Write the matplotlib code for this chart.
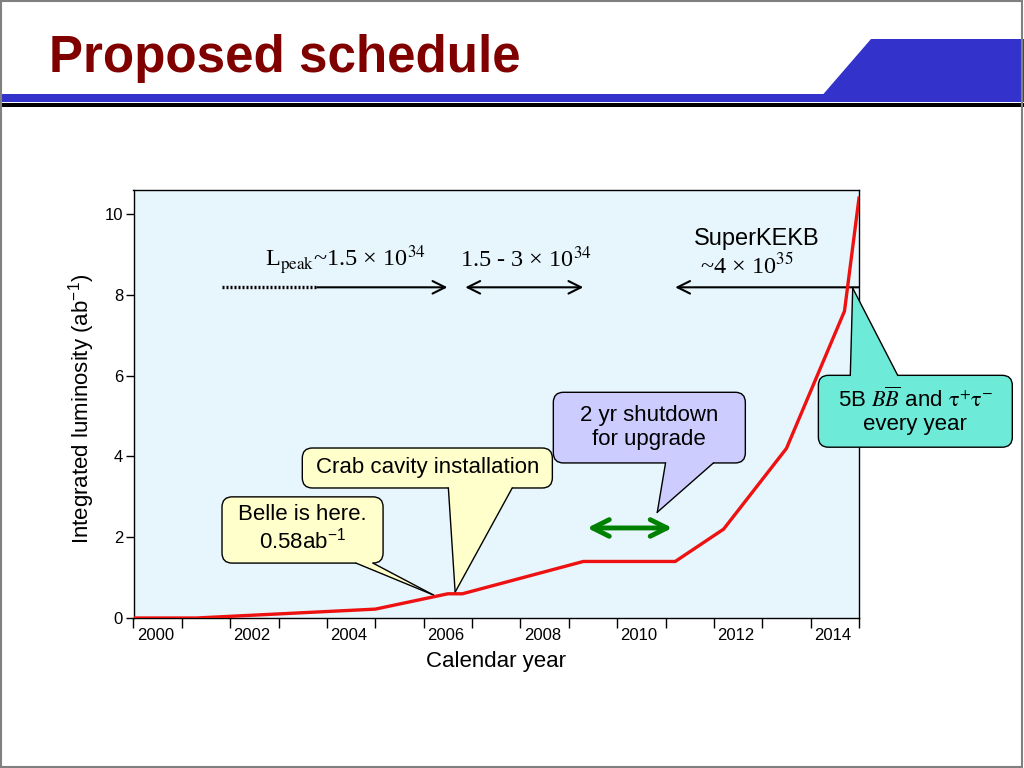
import matplotlib
matplotlib.use('Agg')
import matplotlib.pyplot as plt
from matplotlib.patches import FancyBboxPatch, Polygon, Rectangle

plt.rcParams['font.family'] = ['Liberation Sans', 'DejaVu Sans']
plt.rcParams['mathtext.fontset'] = 'stix'

# 积分亮度 (ab^-1) 随年份
years = [2000, 2001.3, 2005.0, 2006.5, 2006.8, 2009.3, 2011.2, 2012.2, 2013.5, 2014.7, 2015.0]
lumi = [0, 0, 0.22, 0.6, 0.6, 1.4, 1.4, 2.2, 4.2, 7.6, 10.4]

year_edges = list(range(2000, 2016))
year_labels = ['2000', '2002', '2004', '2006', '2008', '2010', '2012', '2014']
lumi_ticks = [0, 2, 4, 6, 8, 10]

fig = plt.figure(figsize=(10.24, 7.68), dpi=100)

# 背景 (页眉, 边框)
bg = fig.add_axes([0, 0, 1, 1])
bg.set_xlim(0, 1024)
bg.set_ylim(768, 0)
bg.axis('off')
bg.add_patch(Rectangle((0, 94), 1024, 7.5, color='#3333CC', lw=0))
bg.add_patch(Polygon([(823, 94.5), (871, 39), (1024, 39), (1024, 94.5)], closed=True, color='#3333CC', lw=0))
bg.add_patch(Rectangle((0, 103), 1024, 4, color='black', lw=0))
bg.add_patch(Rectangle((0.8, 0.8), 1021.5, 766, fill=False, ec='#808080', lw=1.5))
bg.text(49, 72, 'Proposed schedule', fontsize=36.8, fontweight='bold', color='#800000', va='baseline')

ax = fig.add_axes([133.5 / 1024, 1 - 618 / 768, (859 - 133.5) / 1024, (618 - 190) / 768])
ax.set_facecolor('#E6F6FC')
ax.plot(years, lumi, color='#EE1111', lw=2.4, zorder=10, solid_joinstyle='miter')
ax.set_xlim(2000, 2015)
ax.set_ylim(0, 10.6)

ax.set_xticks(year_edges)
ax.set_xticklabels([])
ax.set_xticks([int(s) + 0.45 for s in year_labels], minor=True)
ax.set_xticklabels(year_labels, minor=True)
ax.tick_params(axis='x', which='major', direction='out', length=7, width=1)
ax.tick_params(axis='x', which='minor', length=0, pad=7, labelsize=12)
ax.set_yticks(lumi_ticks)
ax.tick_params(axis='y', direction='out', length=5.5, width=1, pad=2, labelsize=12)
for s in ax.spines.values():
    s.set_linewidth(1)

ax.set_xlabel('Calendar year', fontsize=16)
ax.xaxis.set_label_coords(0.5, -0.077)
ax.set_ylabel(r'Integrated luminosity (ab$^{\mathregular{-1}}$)', fontsize=16)
ax.yaxis.set_label_coords(-0.05, 0.49)

# 亮度文字和箭头
serif = 'Liberation Serif'
ax.text(2002.72, 8.69, r'L$_{\mathrm{peak}}$~1.5 × 10$^{34}$', family=serif, fontsize=17.5, va='baseline')
ax.text(2006.76, 8.69, r'1.5 - 3 × 10$^{34}$', family=serif, fontsize=17.5, va='baseline')
ax.text(2011.58, 9.23, 'SuperKEKB', fontsize=17, va='baseline')
ax.text(2011.72, 8.54, r'~4 × 10$^{35}$', family=serif, fontsize=17.5, va='baseline')

arr_y = 8.19
ax.plot([2001.83, 2003.8], [arr_y, arr_y], color='black', lw=2.4, linestyle=(0, (0.6, 0.6)), zorder=5)
head = '->,head_length=0.6,head_width=0.3'
ax.annotate('', xy=(2006.49, arr_y), xytext=(2003.8, arr_y),
            arrowprops=dict(arrowstyle=head, lw=1.5, color='black', shrinkA=0, shrinkB=0, mutation_scale=15))
ax.annotate('', xy=(2009.3, arr_y), xytext=(2006.86, arr_y),
            arrowprops=dict(arrowstyle='<' + head, lw=1.5, color='black', shrinkA=0, shrinkB=0, mutation_scale=15))
ax.annotate('', xy=(2011.2, arr_y), xytext=(2015.0, arr_y),
            arrowprops=dict(arrowstyle=head, lw=1.5, color='black', shrinkA=0, shrinkB=0, mutation_scale=15))
ax.annotate('', xy=(2011.14, 2.23), xytext=(2009.38, 2.23),
            arrowprops=dict(arrowstyle='<->,head_length=0.6,head_width=0.3', lw=3.5, color='#008000',
                            shrinkA=0, shrinkB=0, mutation_scale=20))


def callout(x0, x1, y0, y1, bx, edge_y, tip, color, text, ty, inner):
    box = FancyBboxPatch((x0, y0), x1 - x0, y1 - y0, boxstyle='round,pad=0,rounding_size=0.21',
                         mutation_aspect=1.2, fc=color, ec='black', lw=1, zorder=6, clip_on=False)
    ax.add_patch(box)
    tail = Polygon([(bx[0], edge_y + inner), (bx[0], edge_y), tip, (bx[1], edge_y), (bx[1], edge_y + inner)],
                   closed=True, fc=color, ec='none', zorder=7, clip_on=False)
    ax.add_patch(tail)
    for b in bx:
        ax.plot([b, tip[0]], [edge_y, tip[1]], color='black', lw=1, zorder=8, clip_on=False)
    ax.text((x0 + x1) / 2, ty, text, ha='center', va='center', fontsize=16, linespacing=1.15,
            zorder=9, clip_on=False)


callout(2001.83, 2005.16, 1.36, 3.0, (2004.6, 2004.95), 1.36, (2006.2, 0.57), '#FFFFCC',
        'Belle is here.\n' + r'0.58ab$^{\mathregular{-1}}$', 2.2, 0.3)
callout(2003.49, 2008.66, 3.22, 4.21, (2006.51, 2007.83), 3.22, (2006.65, 0.64), '#FFFFCC',
        'Crab cavity installation', 3.72, 0.3)
callout(2008.68, 2012.65, 3.84, 5.59, (2011.0, 2011.99), 3.84, (2010.83, 2.62), '#CCCCFF',
        '2 yr shutdown\nfor upgrade', 4.72, 0.3)
callout(2014.16, 2018.17, 4.23, 6.01, (2014.82, 2015.8), 6.01, (2014.87, 8.17), '#6EEBD8',
        r'5B $\mathit{B\overline{B}}$ and $\mathrm{\tau}^{+}\mathrm{\tau}^{-}$' + '\nevery year', 5.12, -0.3)

fig.savefig('out.png', dpi=100)
